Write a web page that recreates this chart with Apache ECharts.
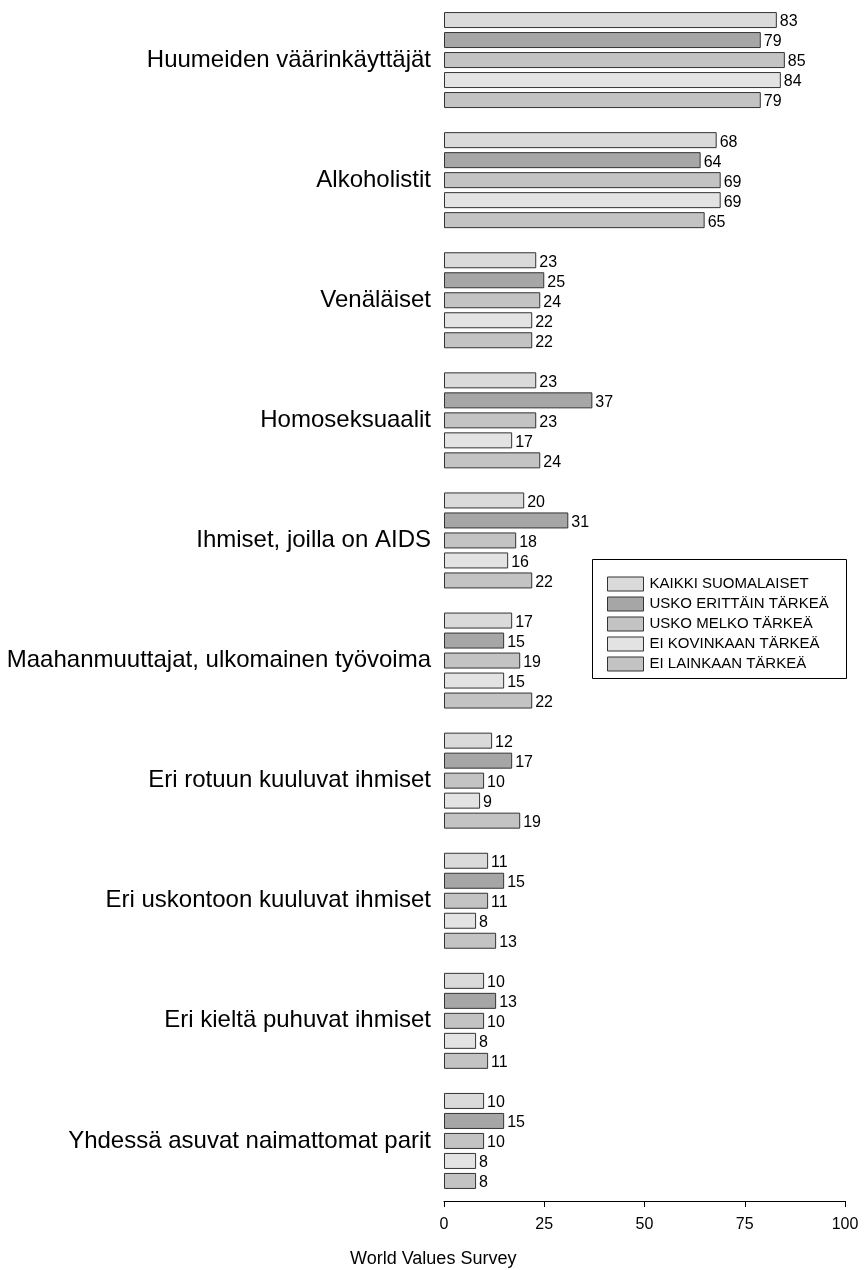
<!DOCTYPE html>
<html>
<head>
<meta charset="utf-8">
<script src="https://cdn.jsdelivr.net/npm/echarts@6/dist/echarts.min.js"></script>
<style>
  html, body { margin: 0; padding: 0; background: #fff; }
  #main { width: 865px; height: 1270px; }
</style>
</head>
<body>
<div id="main"></div>
<script>
var categories = [
    'Huumeiden väärinkäyttäjät',
    'Alkoholistit',
    'Venäläiset',
    'Homoseksuaalit',
    'Ihmiset, joilla on AIDS',
    'Maahanmuuttajat, ulkomainen työvoima',
    'Eri rotuun kuuluvat ihmiset',
    'Eri uskontoon kuuluvat ihmiset',
    'Eri kieltä puhuvat ihmiset',
    'Yhdessä asuvat naimattomat parit'
];
var seriesNames = ['KAIKKI SUOMALAISET', 'USKO ERITTÄIN TÄRKEÄ', 'USKO MELKO TÄRKEÄ', 'EI KOVINKAAN TÄRKEÄ', 'EI LAINKAAN TÄRKEÄ'];
var kaikki = [83, 68, 23, 23, 20, 17, 12, 11, 10, 10];
var erittain = [79, 64, 25, 37, 31, 15, 17, 15, 13, 15];
var melko = [85, 69, 24, 23, 18, 19, 10, 11, 10, 10];
var kovinkaan = [84, 69, 22, 17, 16, 15, 9, 8, 8, 8];
var lainkaan = [79, 65, 22, 24, 22, 22, 19, 13, 11, 8];
var xTicks = [0, 25, 50, 75, 100];

var colors = ['#dadada', '#a6a6a6', '#c3c3c3', '#e3e3e3', '#c3c3c3'];
var values = [kaikki, erittain, melko, kovinkaan, lainkaan];

var chart = echarts.init(document.getElementById('main'));

var series = [];
for (var i = 0; i < seriesNames.length; i++) {
    series.push({
        name: seriesNames[i],
        type: 'bar',
        data: values[i],
        barWidth: 16,
        barGap: '25%',
        itemStyle: { color: colors[i], borderColor: '#333', borderWidth: 1 },
        label: {
            show: true,
            position: 'right',
            distance: 3,
            color: '#000',
            fontFamily: 'Liberation Sans',
            fontSize: 16,
            offset: [0, 2]
        },
        emphasis: { disabled: true }
    });
}

var option = {
    animation: false,
    backgroundColor: '#fff',
    grid: { left: 444, right: 20, top: -3, height: 1204 },
    legend: {
        orient: 'vertical',
        left: 607,
        top: 575,
        padding: 0,
        itemWidth: 36,
        itemHeight: 14,
        itemGap: 2,
        icon: 'rect',
        data: seriesNames,
        itemStyle: { borderColor: '#333', borderWidth: 1 },
        textStyle: { fontFamily: 'Liberation Sans', fontSize: 15, lineHeight: 18, color: '#000', padding: [0, 0, 0, 1] }
    },
    xAxis: {
        type: 'value',
        min: xTicks[0],
        max: xTicks[xTicks.length - 1],
        interval: 25,
        axisLine: { show: true, onZero: false, lineStyle: { color: '#000', width: 1 } },
        axisTick: { show: true, length: 6, lineStyle: { color: '#000' } },
        axisLabel: { fontFamily: 'Liberation Sans', fontSize: 16, color: '#000', margin: 16 },
        splitLine: { show: false }
    },
    yAxis: {
        type: 'category',
        data: categories,
        inverse: true,
        axisLine: { show: false },
        axisTick: { show: false },
        axisLabel: { fontFamily: 'Liberation Sans', fontSize: 24, color: '#000', margin: 13 }
    },
    graphic: [{
        type: 'rect',
        shape: { x: 592.5, y: 559.5, width: 254, height: 119 },
        style: { fill: 'none', stroke: '#000', lineWidth: 1 }
    }, {
        type: 'text',
        left: 350,
        top: 1250,
        style: { text: 'World Values Survey', fontFamily: 'Liberation Sans', fontSize: 18, fill: '#000' }
    }],
    series: series
};
chart.setOption(option);
</script>
</body>
</html>
